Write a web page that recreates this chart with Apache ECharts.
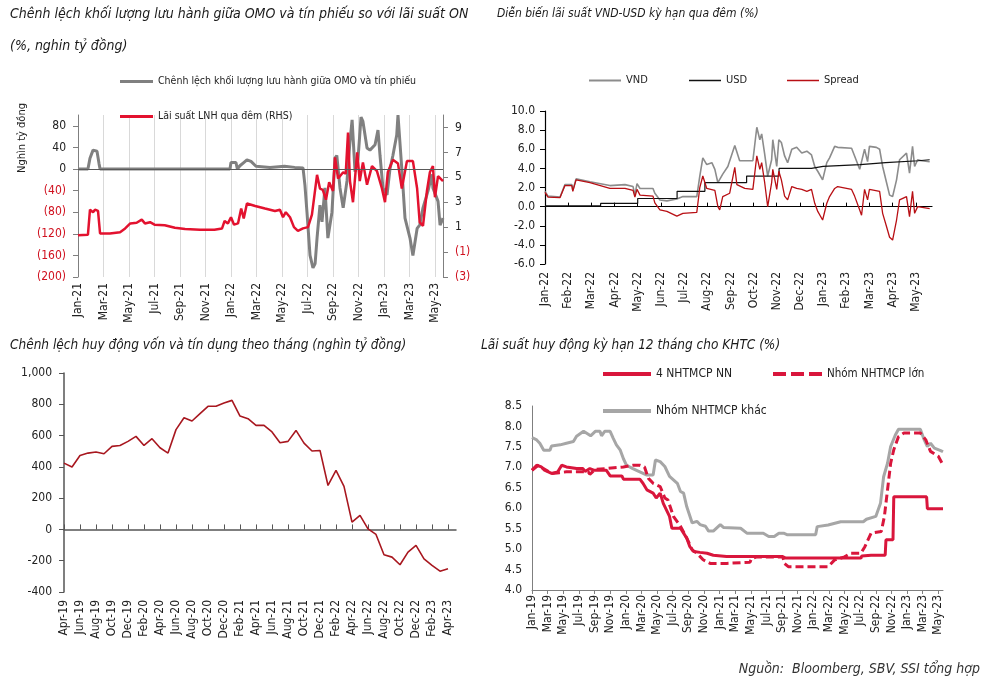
<!DOCTYPE html>
<html><head><meta charset="utf-8">
<script src="https://cdn.jsdelivr.net/npm/echarts@6/dist/echarts.min.js"></script>
<style>html,body{margin:0;padding:0;background:#fff}#c{width:990px;height:684px}</style>
</head><body><div id="c"></div>
<script>
const FONT = "'Liberation Sans Narrow','Arial Narrow','DejaVu Sans Condensed',sans-serif";
const RED_TXT = '#D0101E';

// ---------- Panel 1: OMO vs T-bill outstanding gap (LHS, nghìn tỷ) & ON interbank rate (RHS, %) ----------
const p1Ticks = ['Jan-21','Mar-21','May-21','Jul-21','Sep-21','Nov-21','Jan-22','Mar-22','May-22','Jul-22','Sep-22','Nov-22','Jan-23','Mar-23','May-23'];
// [months since Jan-21, value]
const p1Gap = [[0,0],[0.78,0],[0.94,20],[1.18,35],[1.49,33],[1.65,10],[1.73,0],[11.92,0],[12.0,12],[12.39,12],[12.5,0],[12.7,6],[13.0,12],[13.25,17],[13.57,14],[13.96,5],[15.06,3],[16.2,5],[17.0,3],[17.65,2],[17.8,-30],[17.96,-80],[18.2,-160],[18.43,-183],[18.6,-175],[18.75,-128],[18.98,-67],[19.14,-98],[19.37,-35],[19.6,-128],[19.92,-80],[20.16,20],[20.3,25],[20.55,-35],[20.8,-72],[21.1,-22],[21.33,50],[21.5,91],[21.73,-5],[21.96,18],[22.2,96],[22.35,88],[22.67,39],[22.9,35],[23.3,45],[23.53,72],[23.69,25],[23.92,-35],[24.24,-48],[24.47,0],[24.7,25],[25.0,63],[25.1,100],[25.4,0],[25.65,-91],[26.04,-128],[26.27,-160],[26.6,-110],[26.8,-104],[27.06,-72],[27.45,-41],[27.76,-10],[27.84,-35],[28.24,-60],[28.4,-104],[28.63,-91]];
const p1Rate = [[0,0.35],[0.78,0.4],[0.94,2.4],[1.18,2.2],[1.33,2.4],[1.57,2.3],[1.73,0.5],[2.5,0.5],[3.3,0.6],[3.7,0.9],[4.1,1.3],[4.6,1.35],[5.0,1.6],[5.25,1.3],[5.65,1.4],[6.0,1.2],[6.8,1.15],[7.6,0.95],[8.4,0.85],[9.57,0.8],[10.7,0.8],[11.3,0.9],[11.5,1.5],[11.76,1.3],[12.0,1.8],[12.24,1.2],[12.55,1.3],[12.8,2.5],[13.0,1.7],[13.25,2.9],[13.9,2.7],[14.67,2.5],[15.45,2.3],[15.84,2.4],[16.08,1.8],[16.3,2.2],[16.63,1.8],[16.94,1.0],[17.25,0.7],[17.65,0.9],[18.04,1.0],[18.35,2.0],[18.75,5.2],[18.98,4.1],[19.2,4.0],[19.45,3.2],[19.7,4.6],[20.0,3.9],[20.16,6.6],[20.4,4.9],[20.8,5.4],[21.0,5.3],[21.18,8.6],[21.33,4.7],[21.57,3.0],[21.9,7.0],[22.1,4.7],[22.35,6.2],[22.67,4.4],[23.06,5.9],[23.45,5.5],[23.84,4.1],[24.08,3.0],[24.3,5.4],[24.7,6.4],[25.1,6.1],[25.4,4.1],[25.8,6.3],[26.27,6.3],[26.6,4.1],[26.8,1.4],[27.06,1.1],[27.37,3.9],[27.6,5.4],[27.84,5.9],[28.0,3.4],[28.24,5.1],[28.63,4.7]];

// ---------- Panel 2: VND-USD overnight rates (%) ----------
const p2Ticks = ['Jan-22','Feb-22','Mar-22','Apr-22','May-22','Jun-22','Jul-22','Aug-22','Sep-22','Oct-22','Nov-22','Dec-22','Jan-23','Feb-23','Mar-23','Apr-23','May-23'];
// [months since Jan-22, value]
const p2Vnd = [[0,1.6],[0.13,1.1],[0.65,1.0],[0.86,2.3],[1.16,2.3],[1.2,1.7],[1.34,2.9],[1.94,2.6],[2.8,2.2],[3.45,2.3],[3.8,2.1],[3.88,1.2],[3.97,2.4],[4.1,1.9],[4.66,1.9],[4.74,1.4],[4.96,0.7],[5.26,0.6],[5.69,0.8],[5.95,1.05],[6.55,1.05],[6.68,3.2],[6.81,5.1],[6.98,4.4],[7.2,4.6],[7.33,3.9],[7.46,2.5],[7.67,3.4],[7.89,4.2],[8.19,6.4],[8.4,4.8],[8.97,4.8],[9.14,8.3],[9.27,7.0],[9.35,7.6],[9.48,5.5],[9.61,3.2],[9.78,4.9],[9.83,7.0],[10.0,4.2],[10.09,7.0],[10.2,6.7],[10.34,5.3],[10.47,4.6],[10.65,6.0],[10.86,6.2],[11.08,5.6],[11.3,5.8],[11.5,5.4],[11.64,4.2],[11.77,3.7],[11.98,2.8],[12.16,4.6],[12.28,5.1],[12.5,6.3],[12.63,6.2],[13.23,6.1],[13.36,5.3],[13.58,3.9],[13.79,6.0],[13.92,4.7],[14.0,6.3],[14.3,6.2],[14.44,6.0],[14.57,4.2],[14.74,2.5],[14.87,1.2],[15.0,1.05],[15.17,2.8],[15.3,4.9],[15.6,5.6],[15.73,3.5],[15.86,6.3],[15.95,4.2],[16.08,4.9],[16.25,4.8],[16.6,4.7]];
const p2Usd = [[0,0.08],[2.4,0.33],[4.0,0.85],[5.7,1.6],[6.9,2.5],[8.7,3.2],[10.1,4.0],[11.5,4.2],[12.0,4.4],[13.6,4.6],[14.7,4.8],[16.1,4.9],[16.6,4.9]];
const p2Spread = [[0,1.5],[0.13,1.0],[0.65,0.95],[0.86,2.2],[1.16,2.2],[1.2,1.6],[1.34,2.8],[1.94,2.5],[2.8,1.9],[3.45,1.9],[3.8,1.7],[3.88,1.0],[3.97,1.8],[4.1,1.2],[4.66,1.1],[4.74,0.4],[4.96,-0.35],[5.26,-0.5],[5.69,-1.0],[5.95,-0.7],[6.55,-0.6],[6.68,2.0],[6.81,3.2],[6.98,1.9],[7.33,1.7],[7.46,0],[7.54,-0.35],[7.67,1.05],[7.97,1.4],[8.19,4.1],[8.28,2.3],[8.62,1.9],[8.97,1.8],[9.14,5.3],[9.27,3.9],[9.35,4.6],[9.48,2.5],[9.61,0],[9.78,2.5],[9.83,3.9],[10.0,1.8],[10.09,3.7],[10.2,2.8],[10.34,1.1],[10.47,0.7],[10.65,2.1],[10.86,1.9],[11.08,1.8],[11.3,1.6],[11.5,1.8],[11.64,0.35],[11.77,-0.5],[11.98,-1.4],[12.16,0.35],[12.28,1.05],[12.5,1.9],[12.63,2.1],[13.23,1.8],[13.36,1.1],[13.58,-0.35],[13.66,-0.9],[13.79,1.8],[13.92,0.7],[14.0,1.8],[14.44,1.6],[14.57,-0.7],[14.74,-2.1],[14.87,-3.2],[15.0,-3.5],[15.17,-1.4],[15.3,0.7],[15.6,1.05],[15.73,-1.05],[15.86,1.6],[15.95,-0.7],[16.08,0],[16.6,-0.2]];

// ---------- Panel 3: monthly deposit - credit gap (nghìn tỷ), Apr-19 .. Apr-23 ----------
const p3Ticks = ['Apr-19','Jun-19','Aug-19','Oct-19','Dec-19','Feb-20','Apr-20','Jun-20','Aug-20','Oct-20','Dec-20','Feb-21','Apr-21','Jun-21','Aug-21','Oct-21','Dec-21','Feb-22','Apr-22','Jun-22','Aug-22','Oct-22','Dec-22','Feb-23','Apr-23'];
const p3Gap = [424,399,473,488,495,484,531,537,563,595,537,580,522,488,638,714,693,740,787,787,808,825,725,708,665,665,623,554,563,633,552,501,505,281,377,275,47,90,4,-32,-162,-177,-226,-145,-102,-188,-230,-267,-252];

// ---------- Panel 4: 12M deposit rates (%) ----------
const p4Ticks = ['Jan-19','Mar-19','May-19','Jul-19','Sep-19','Nov-19','Jan-20','Mar-20','May-20','Jul-20','Sep-20','Nov-20','Jan-21','Mar-21','May-21','Jul-21','Sep-21','Nov-21','Jan-22','Mar-22','May-22','Jul-22','Sep-22','Nov-22','Jan-23','Mar-23','May-23'];
// [months since Jan-19, value]
const p4Soe = [[0,6.93],[0.6,7.05],[1.2,7.01],[1.6,6.93],[2.5,6.85],[3.3,6.89],[3.8,7.05],[4.4,7.01],[5.7,6.97],[6.5,6.97],[6.8,6.9],[7.4,6.97],[7.9,6.93],[9.5,6.93],[10.0,6.79],[11.5,6.79],[11.7,6.71],[13.8,6.71],[14.2,6.61],[14.7,6.45],[15.5,6.37],[15.9,6.25],[16.4,6.37],[16.8,6.12],[17.2,5.96],[17.6,5.8],[17.9,5.51],[19.0,5.51],[19.4,5.39],[19.8,5.27],[20.2,5.06],[20.7,4.94],[21.5,4.92],[22.4,4.9],[23.2,4.85],[24.9,4.82],[32.0,4.82],[32.1,4.86],[32.5,4.78],[42.1,4.78],[42.2,4.83],[43.4,4.85],[45.2,4.85],[45.3,5.23],[46.2,5.23],[46.3,6.28],[50.5,6.28],[50.6,5.99],[52.6,5.99]];
const p4Large = [[0,6.93],[0.8,7.05],[2.5,6.85],[3.5,6.87],[4.4,6.89],[7.2,6.89],[7.4,6.83],[8.1,6.95],[9.5,6.97],[11.7,7.01],[12.9,7.05],[13.8,7.05],[14.4,7.01],[14.9,6.73],[15.5,6.61],[16.4,6.53],[17.0,6.25],[17.4,6.2],[18.1,5.8],[19.0,5.56],[19.6,5.35],[20.1,5.15],[20.5,4.98],[21.1,4.9],[21.9,4.74],[22.8,4.65],[24.9,4.65],[27.9,4.68],[28.1,4.77],[28.8,4.81],[32.1,4.81],[32.3,4.65],[32.8,4.57],[37.9,4.57],[38.7,4.73],[40.0,4.81],[40.8,4.9],[42.1,4.9],[42.6,5.06],[43.4,5.39],[44.7,5.43],[45.1,5.8],[45.5,6.45],[45.9,7.1],[46.3,7.43],[46.9,7.75],[47.6,7.84],[49.7,7.84],[50.4,7.67],[51.0,7.39],[52.0,7.27],[52.6,7.06]];
const p4Other = [[0,7.73],[0.6,7.67],[1.0,7.59],[1.5,7.42],[2.3,7.42],[2.5,7.52],[3.6,7.55],[4.4,7.59],[5.3,7.63],[5.7,7.76],[6.6,7.88],[7.5,7.77],[8.1,7.88],[8.7,7.88],[8.9,7.77],[9.3,7.88],[10.0,7.88],[10.4,7.71],[10.8,7.55],[11.3,7.42],[11.7,7.21],[12.1,7.05],[12.9,6.97],[13.8,6.89],[14.7,6.81],[15.5,6.81],[15.8,7.18],[16.4,7.14],[17.0,7.02],[17.6,6.78],[18.6,6.61],[19.0,6.41],[19.4,6.37],[19.8,6.04],[20.5,5.64],[21.1,5.68],[21.5,5.6],[22.2,5.56],[22.6,5.44],[23.2,5.44],[24.1,5.6],[24.5,5.53],[26.7,5.51],[27.5,5.39],[29.6,5.39],[30.3,5.31],[31.0,5.31],[31.6,5.39],[32.2,5.39],[32.7,5.35],[36.3,5.35],[36.5,5.55],[37.9,5.59],[39.5,5.67],[42.4,5.67],[42.8,5.73],[44.0,5.8],[44.6,6.12],[45.0,6.77],[45.5,7.1],[45.9,7.51],[46.5,7.79],[46.9,7.93],[49.7,7.93],[50.2,7.67],[50.6,7.51],[51.0,7.59],[51.5,7.47],[52.3,7.41],[52.6,7.38]];

// ---------- helpers ----------
function tickLabel(list, step) {
  return function (v) {
    const r = Math.round(v);
    if (Math.abs(v - r) > 1e-6 || r % step !== 0) return '';
    const s = list[r / step];
    return s === undefined ? '' : s;
  };
}
function evenValues(n, step) { const a = []; for (let i = 0; i < n; i++) a.push(i * step); return a; }
const paren = v => (Number(v) < 0 ? '(' + (-Number(v)) + ')' : String(v));
const parenColor = v => (Number(v) < 0 ? RED_TXT : '#222');
const lbl = (extra) => Object.assign({ fontFamily: FONT, fontSize: 12, color: '#222' }, extra || {});
const DASH_ICON = 'path://M0 0H13V4H0Z M18 0H31V4H18Z M36 0H49V4H36Z';
// legend item: centre y given (the row height follows the text height)
function leg(name, left, cy, w, h, fs, icon) {
  return { data: [name], left: left, top: cy - Math.round(fs * 0.6) + 2, padding: 0, itemWidth: w, itemHeight: h, itemGap: 0,
    icon: icon || 'rect', textStyle: { fontFamily: FONT, fontSize: fs, color: '#222' }, selectedMode: false };
}

const chart = echarts.init(document.getElementById('c'), null, { renderer: 'canvas' });
chart.setOption({
  animation: false,
  backgroundColor: '#fff',
  graphic: [
    { type: 'text', x: 10, y: 14, style: { text: 'Chênh lệch khối lượng lưu hành giữa OMO và tín phiếu so với lãi suất ON', font: 'italic 14px ' + FONT, fill: '#1a1a1a', textVerticalAlign: 'middle' } },
    { type: 'text', x: 10, y: 46, style: { text: '(%, nghin tỷ đồng)', font: 'italic 14px ' + FONT, fill: '#1a1a1a', textVerticalAlign: 'middle' } },
    { type: 'text', x: 497, y: 14, style: { text: 'Diễn biến lãi suất VND-USD kỳ hạn qua đêm (%)', font: 'italic 12px ' + FONT, fill: '#1a1a1a', textVerticalAlign: 'middle' } },
    { type: 'text', x: 10, y: 345, style: { text: 'Chênh lệch huy động vốn và tín dụng theo tháng (nghìn tỷ đồng)', font: 'italic 13.5px ' + FONT, fill: '#1a1a1a', textVerticalAlign: 'middle' } },
    { type: 'text', x: 481, y: 345, style: { text: 'Lãi suất huy động kỳ hạn 12 tháng cho KHTC (%)', font: 'italic 13.5px ' + FONT, fill: '#1a1a1a', textVerticalAlign: 'middle' } },
    { type: 'text', x: 22, y: 138, rotation: Math.PI / 2, style: { text: 'Nghìn tỷ đồng', font: '11px ' + FONT, fill: '#222', textAlign: 'center', textVerticalAlign: 'middle' } },
    { type: 'text', x: 980, y: 669, style: { text: 'Nguồn:  Bloomberg, SBV, SSI tổng hợp', font: 'italic 14px ' + FONT, fill: '#333', textAlign: 'right', textVerticalAlign: 'middle' } }
  ],
  legend: [
    leg('Chênh lệch khối lượng lưu hành giữa OMO và tín phiếu', 120, 80, 33, 3, 10.5),
    leg('Lãi suất LNH qua đêm (RHS)', 120, 115, 33, 3, 10.5),
    leg('VND', 589, 80, 32, 2, 11),
    leg('USD', 689, 80, 32, 1.5, 11),
    leg('Spread', 787, 80, 32, 1.5, 11),
    leg('4 NHTMCP NN', 603, 373, 48, 4, 12),
    leg('Nhóm NHTMCP lớn', 773, 373, 49, 4, 11.5, DASH_ICON),
    leg('Nhóm NHTMCP khác', 603, 410, 48, 4, 12)
  ],
  grid: [
    { left: 78, top: 115, width: 365, height: 162 },
    { left: 545, top: 111, width: 387, height: 153 },
    { left: 64, top: 373, width: 392, height: 219 },
    { left: 532, top: 406, width: 411, height: 184 }
  ],
  xAxis: [
    { gridIndex: 0, type: 'value', min: 0, max: 28.63, interval: 2,
      axisLine: { show: false, onZero: false }, axisTick: { show: false },
      splitLine: { show: true, lineStyle: { color: '#d9d9d9', width: 1 } },
      axisLabel: lbl({ rotate: 90, margin: 6, formatter: tickLabel(p1Ticks, 2), showMaxLabel: false }) },
    { gridIndex: 1, type: 'value', min: 0, max: 16.7, interval: 1,
      axisLine: { show: false, onZero: false }, axisTick: { show: false }, splitLine: { show: false },
      axisLabel: lbl({ rotate: 90, margin: 8, formatter: tickLabel(p2Ticks, 1), showMaxLabel: false }) },
    { gridIndex: 1, type: 'value', min: 0, max: 16.7, interval: 1,
      axisLine: { show: true, onZero: true, lineStyle: { color: '#000', width: 1.2 } },
      axisTick: { show: true, length: 4, lineStyle: { color: '#000' }, customValues: evenValues(p2Ticks.length, 1) },
      splitLine: { show: false }, axisLabel: { show: false } },
    { gridIndex: 2, type: 'value', min: 0, max: 49, interval: 2,
      axisLine: { show: false, onZero: false }, axisTick: { show: false }, splitLine: { show: false },
      axisLabel: lbl({ rotate: 90, margin: 8, formatter: tickLabel(p3Ticks, 2), showMaxLabel: false }) },
    { gridIndex: 2, type: 'value', min: 0, max: 49, interval: 2,
      axisLine: { show: true, onZero: true, lineStyle: { color: '#555', width: 1.5 } },
      axisTick: { show: true, length: 5, lineStyle: { color: '#555' }, customValues: evenValues(p3Ticks.length, 2) },
      splitLine: { show: false }, axisLabel: { show: false } },
    { gridIndex: 3, type: 'value', min: 0, max: 52.6, interval: 2,
      axisLine: { show: true, onZero: false, lineStyle: { color: '#7f7f7f', width: 1 } },
      axisTick: { show: true, length: 4, lineStyle: { color: '#7f7f7f' }, customValues: evenValues(p4Ticks.length, 2) },
      splitLine: { show: false },
      axisLabel: lbl({ rotate: 90, margin: 5, formatter: tickLabel(p4Ticks, 2), showMaxLabel: false }) }
  ],
  yAxis: [
    { gridIndex: 0, type: 'value', min: -200, max: 100, interval: 40,
      axisLine: { show: true, onZero: false, lineStyle: { color: '#7f7f7f' } },
      axisTick: { show: true, length: 5, lineStyle: { color: '#7f7f7f' } }, splitLine: { show: false },
      axisLabel: lbl({ margin: 12, formatter: paren, color: parenColor, showMaxLabel: false }) },
    { gridIndex: 0, type: 'value', position: 'right', min: -3, max: 10, interval: 2,
      axisLine: { show: true, onZero: false, lineStyle: { color: '#7f7f7f' } },
      axisTick: { show: true, length: 5, lineStyle: { color: '#7f7f7f' } }, splitLine: { show: false },
      axisLabel: lbl({ margin: 12, formatter: paren, color: parenColor, showMaxLabel: false }) },
    { gridIndex: 1, type: 'value', min: -6, max: 10, interval: 2,
      axisLine: { show: true, onZero: false, lineStyle: { color: '#000', width: 1.2 } },
      axisTick: { show: true, length: 5, lineStyle: { color: '#000' } }, splitLine: { show: false },
      axisLabel: lbl({ margin: 10, formatter: v => Number(v).toFixed(1) }) },
    { gridIndex: 2, type: 'value', min: -400, max: 1000, interval: 200,
      axisLine: { show: true, onZero: false, lineStyle: { color: '#555', width: 1.5 } },
      axisTick: { show: true, length: 5, lineStyle: { color: '#555' } }, splitLine: { show: false },
      axisLabel: lbl({ margin: 12, formatter: v => Number(v).toLocaleString('en-US') }) },
    { gridIndex: 3, type: 'value', min: 4, max: 8.5, interval: 0.5,
      axisLine: { show: true, onZero: false, lineStyle: { color: '#7f7f7f' } },
      axisTick: { show: false }, splitLine: { show: false },
      axisLabel: lbl({ margin: 10, formatter: v => Number(v).toFixed(1) }) }
  ],
  series: [
    { name: 'Chênh lệch khối lượng lưu hành giữa OMO và tín phiếu', type: 'line', xAxisIndex: 0, yAxisIndex: 0,
      data: p1Gap, symbol: 'none', color: '#808080', lineStyle: { color: '#808080', width: 3 },
      markLine: { silent: true, symbol: 'none', label: { show: false }, lineStyle: { color: '#595959', width: 1, type: 'solid' }, data: [{ yAxis: 0 }] } },
    { name: 'Lãi suất LNH qua đêm (RHS)', type: 'line', xAxisIndex: 0, yAxisIndex: 1,
      data: p1Rate, symbol: 'none', color: '#E3122F', lineStyle: { color: '#E3122F', width: 2.5 } },
    { name: 'VND', type: 'line', xAxisIndex: 1, yAxisIndex: 2, data: p2Vnd, symbol: 'none',
      color: '#8c8c8c', lineStyle: { color: '#8c8c8c', width: 1.6 } },
    { name: 'USD', type: 'line', xAxisIndex: 1, yAxisIndex: 2, data: p2Usd, symbol: 'none', step: 'end',
      color: '#111', lineStyle: { color: '#111', width: 1.2 } },
    { name: 'Spread', type: 'line', xAxisIndex: 1, yAxisIndex: 2, data: p2Spread, symbol: 'none',
      color: '#B80F14', lineStyle: { color: '#B80F14', width: 1.3 } },
    { name: 'Chênh lệch huy động vốn và tín dụng', type: 'line', xAxisIndex: 3, yAxisIndex: 3,
      data: p3Gap.map((v, i) => [i, v]), symbol: 'none', color: '#A8171F', lineStyle: { color: '#A8171F', width: 1.6 } },
    { name: 'Nhóm NHTMCP khác', type: 'line', xAxisIndex: 5, yAxisIndex: 4, data: p4Other, symbol: 'none',
      color: '#A6A6A6', lineStyle: { color: '#A6A6A6', width: 3 } },
    { name: '4 NHTMCP NN', type: 'line', xAxisIndex: 5, yAxisIndex: 4, data: p4Soe, symbol: 'none',
      color: '#D9163C', lineStyle: { color: '#D9163C', width: 3 } },
    { name: 'Nhóm NHTMCP lớn', type: 'line', xAxisIndex: 5, yAxisIndex: 4, data: p4Large, symbol: 'none',
      color: '#D9163C', lineStyle: { color: '#D9163C', width: 3, type: [8, 4] } }
  ]
});
</script>
</body></html>
